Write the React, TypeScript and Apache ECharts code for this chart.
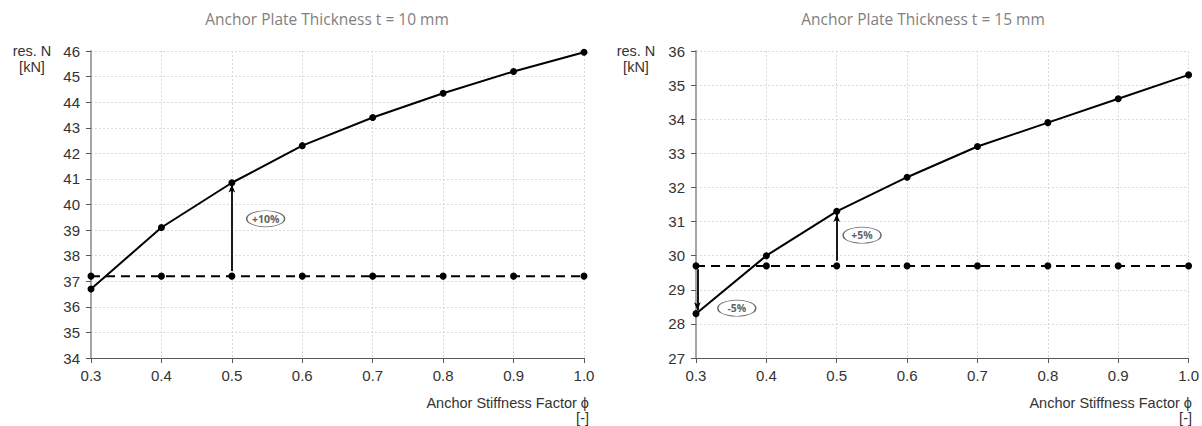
import React, { useEffect, useRef } from "react";
import * as echarts from "echarts";

const phi = [0.3, 0.4, 0.5, 0.6, 0.7, 0.8, 0.9, 1.0];
const resN10 = [36.7, 39.1, 40.85, 42.3, 43.4, 44.35, 45.2, 45.95];
const base10 = [37.2, 37.2, 37.2, 37.2, 37.2, 37.2, 37.2, 37.2];
const resN15 = [28.3, 30.0, 31.3, 32.3, 33.2, 33.9, 34.6, 35.3];
const base15 = [29.7, 29.7, 29.7, 29.7, 29.7, 29.7, 29.7, 29.7];

const titles = ["Anchor Plate Thickness t = 10 mm", "Anchor Plate Thickness t = 15 mm"];
const yRange10 = [34, 46];
const yRange15 = [27, 36];

// annotations: arrows [x, yFrom, yTo], labels [x, y, text]
const arrows10 = [[0.5, 37.4, 40.78]];
const arrows15 = [[0.5, 29.85, 31.22], [0.302, 29.6, 28.4]];
const labels10: [number, number, string][] = [[0.548, 39.44, "+10%"]];
const labels15: [number, number, string][] = [[0.536, 30.6, "+5%"], [0.358, 28.46, "-5%"]];

const FONT = "'Liberation Sans', Arial, sans-serif";

function makeAxes(idx: number, yr: number[]) {
  const x = {
    type: "value",
    gridIndex: idx,
    min: 0.3,
    max: 1.0,
    interval: 0.1,
    axisLine: { show: true, lineStyle: { color: "#595959", width: 1 } },
    axisTick: { show: true, length: 5, lineStyle: { color: "#595959" } },
    axisLabel: {
      margin: 10,
      fontFamily: FONT,
      fontSize: 15,
      color: "#333",
      formatter: (v: number) => v.toFixed(1),
    },
    splitLine: { show: true, lineStyle: { color: "#d9d9d9", type: [2, 2], width: 1 } },
  };
  const y = {
    type: "value",
    gridIndex: idx,
    min: yr[0],
    max: yr[1],
    interval: 1,
    axisLine: { show: true, lineStyle: { color: "#a6a6a6", width: 2 } },
    axisTick: { show: true, length: 5, lineStyle: { color: "#595959" } },
    axisLabel: { margin: 11, fontFamily: FONT, fontSize: 15, color: "#333" },
    splitLine: { show: true, lineStyle: { color: "#d9d9d9", type: [2, 2], width: 1 } },
  };
  return { x, y };
}

function makeSeries(idx: number, main: number[], base: number[], arrows: number[][], labels: [number, number, string][]) {
  return [
    {
      type: "line",
      xAxisIndex: idx,
      yAxisIndex: idx,
      data: phi.map((p, i) => [p, base[i]]),
      symbol: "circle",
      symbolSize: 7,
      itemStyle: { color: "#000" },
      lineStyle: { color: "#000", width: 2, type: [9, 6] },
      z: 3,
    },
    {
      type: "line",
      xAxisIndex: idx,
      yAxisIndex: idx,
      data: phi.map((p, i) => [p, main[i]]),
      symbol: "circle",
      symbolSize: 7,
      itemStyle: { color: "#000" },
      lineStyle: { color: "#000", width: 2 },
      z: 4,
      markLine: {
        silent: true,
        symbol: ["none", "arrow"],
        symbolSize: [5, 8],
        label: { show: false },
        lineStyle: { color: "#000", width: 1.8, type: "solid" },
        data: arrows.map((a) => [{ coord: [a[0], a[1]] }, { coord: [a[0], a[2]] }]),
      },
    },
    {
      type: "scatter",
      xAxisIndex: idx,
      yAxisIndex: idx,
      data: labels.map((l) => ({ value: [l[0], l[1]], name: l[2] })),
      symbol: "circle",
      symbolSize: [38, 16],
      itemStyle: { color: "#fff", borderColor: "#444", borderWidth: 1 },
      label: {
        show: true,
        position: "inside",
        formatter: (p: any) => p.name,
        fontFamily: "'Open Sans', sans-serif",
        fontSize: 10.5,
        fontWeight: "bold",
        color: "#333",
      },
      z: 5,
    },
  ];
}

export default function App() {
  const ref = useRef<HTMLDivElement>(null);
  useEffect(() => {
    document.body.style.margin = "0";
    const chart = echarts.init(ref.current!, null, { renderer: "svg" });
    const a0 = makeAxes(0, yRange10);
    const a1 = makeAxes(1, yRange15);
    const textStyleY = { fontFamily: FONT, fontSize: 14.5, fill: "#333", textAlign: "center" };
    const textStyleX = { fontFamily: FONT, fontSize: 14.5, fill: "#333", textAlign: "right" };
    const titleStyle = { fontFamily: "'Open Sans', sans-serif", fontSize: 15.5, fontWeight: "normal", color: "#7f7f7f" };
    chart.setOption({
      animation: false,
      backgroundColor: "#fff",
      title: [
        { text: titles[0], left: 322, top: 6, textAlign: "center", textStyle: titleStyle },
        { text: titles[1], left: 918, top: 6, textAlign: "center", textStyle: titleStyle },
      ],
      grid: [
        { left: 91, top: 51, width: 493, height: 307 },
        { left: 696, top: 51, width: 493, height: 307 },
      ],
      xAxis: [a0.x, a1.x],
      yAxis: [a0.y, a1.y],
      series: [
        ...makeSeries(0, resN10, base10, arrows10, labels10),
        ...makeSeries(1, resN15, base15, arrows15, labels15),
      ],
      graphic: [
        { type: "text", x: 32, y: 43, style: { ...textStyleY, text: "res. N" } },
        { type: "text", x: 32, y: 59, style: { ...textStyleY, text: "[kN]" } },
        { type: "text", x: 636, y: 43, style: { ...textStyleY, text: "res. N" } },
        { type: "text", x: 636, y: 59, style: { ...textStyleY, text: "[kN]" } },
        { type: "text", x: 589, y: 395, style: { ...textStyleX, text: "Anchor Stiffness Factor ϕ" } },
        { type: "text", x: 589, y: 410, style: { ...textStyleX, text: "[-]" } },
        { type: "text", x: 1192, y: 395, style: { ...textStyleX, text: "Anchor Stiffness Factor ϕ" } },
        { type: "text", x: 1192, y: 410, style: { ...textStyleX, text: "[-]" } },
      ],
    });
    return () => chart.dispose();
  }, []);
  return <div ref={ref} style={{ width: 1202, height: 426 }} />;
}
